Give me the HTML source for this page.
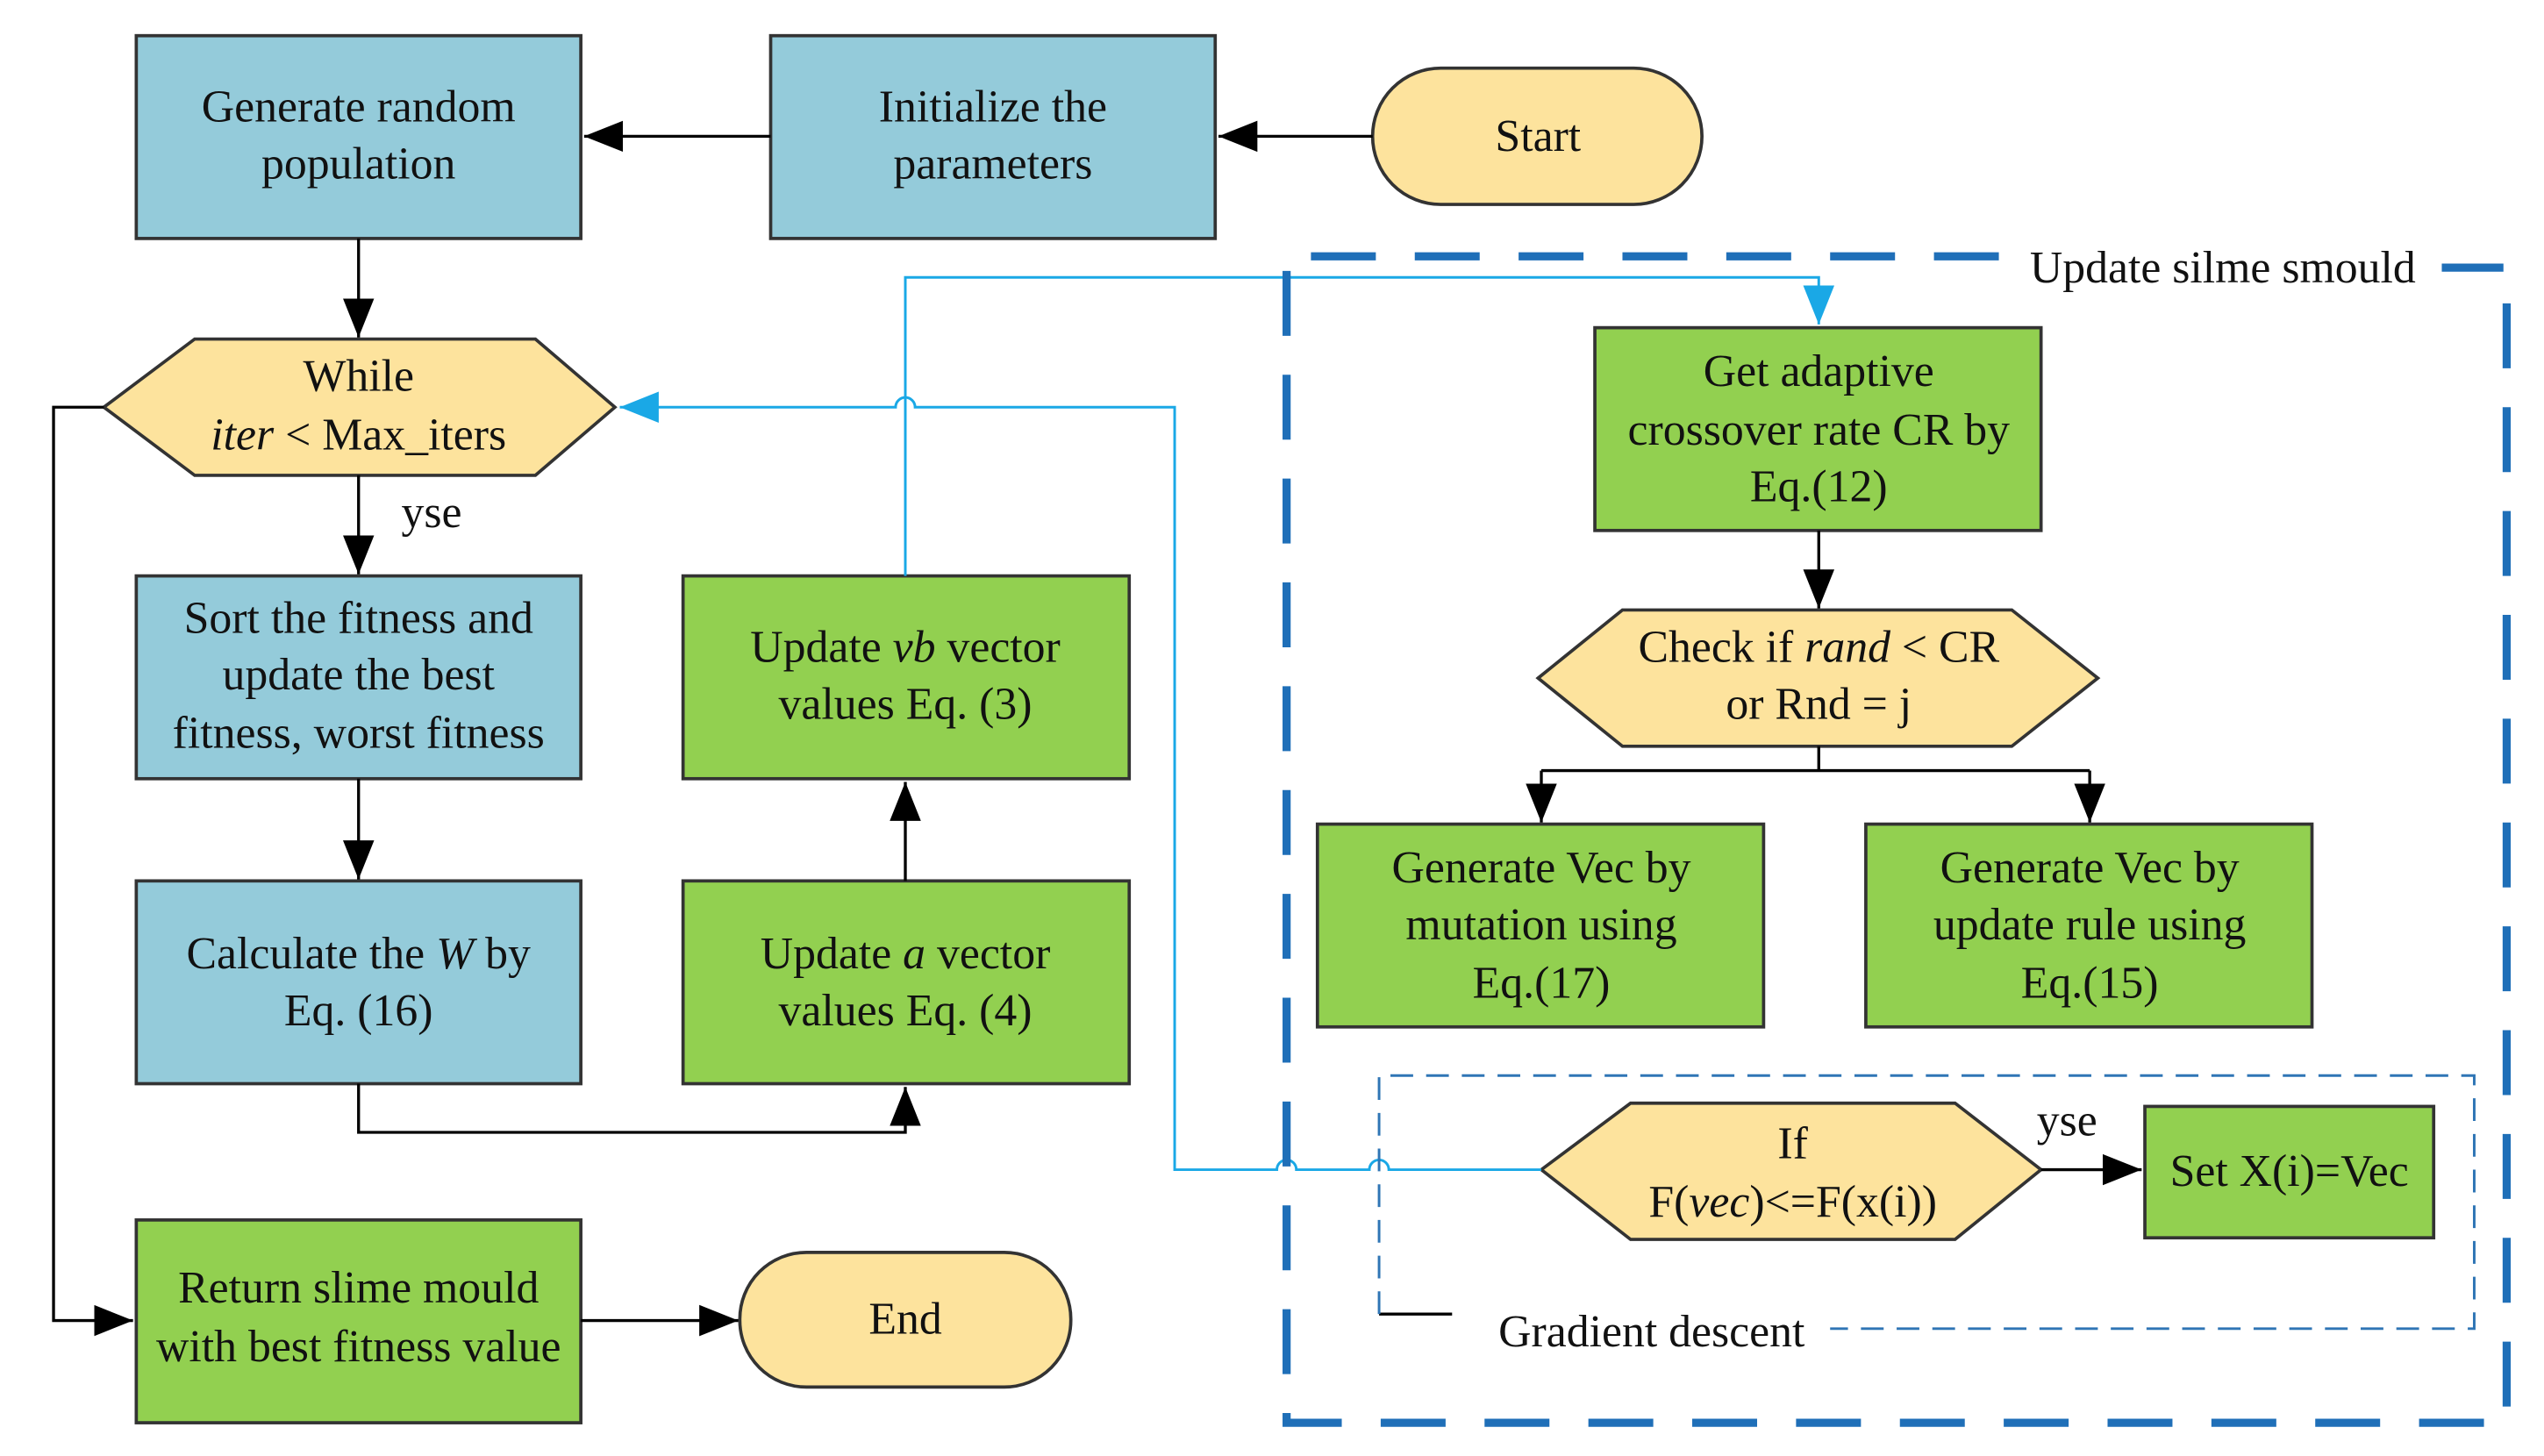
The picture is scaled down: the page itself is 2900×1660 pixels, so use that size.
<!DOCTYPE html>
<html><head><meta charset="utf-8"><style>html,body{margin:0;padding:0;background:#fff}svg{display:block}text{font-family:"Liberation Serif",serif;font-size:28px;fill:#111;text-anchor:middle}</style></head>
<body>
<svg width="2900" height="1660" viewBox="0 0 1568 897.5" preserveAspectRatio="none" xmlns="http://www.w3.org/2000/svg">
<defs>
<marker id="a" viewBox="0 0 10 10" refX="10" refY="5" markerWidth="24" markerHeight="24" markerUnits="userSpaceOnUse" orient="auto"><path d="M0,1 L10,5 L0,9z" fill="#000"/></marker>
<marker id="b" viewBox="0 0 10 10" refX="10" refY="5" markerWidth="24" markerHeight="24" markerUnits="userSpaceOnUse" orient="auto"><path d="M0,1 L10,5 L0,9z" fill="#1aa8e6"/></marker>
</defs>
<g stroke="#333" stroke-width="2">
<rect x="84" y="22" width="274" height="125" fill="#94cbda"/>
<rect x="475" y="22" width="274" height="125" fill="#94cbda"/>
<rect x="846" y="42" width="203" height="84" rx="42" fill="#fde39d"/>
<polygon points="64,251 120,209 330,209 379,251 330,293 120,293" fill="#fde39d"/>
<rect x="84" y="355" width="274" height="125" fill="#94cbda"/>
<rect x="84" y="543" width="274" height="125" fill="#94cbda"/>
<rect x="421" y="355" width="275" height="125" fill="#92d050"/>
<rect x="421" y="543" width="275" height="125" fill="#92d050"/>
<rect x="84" y="752" width="274" height="125" fill="#92d050"/>
<rect x="456" y="772" width="204" height="83" rx="41" fill="#fde39d"/>
<rect x="983" y="202" width="275" height="125" fill="#92d050"/>
<polygon points="948,418 1000,376 1240,376 1293,418 1240,460 1000,460" fill="#fde39d"/>
<rect x="812" y="508" width="275" height="125" fill="#92d050"/>
<rect x="1150" y="508" width="275" height="125" fill="#92d050"/>
<polygon points="950,721 1005,680 1205,680 1258,721 1205,764 1005,764" fill="#fde39d"/>
<rect x="1322" y="682" width="178" height="81" fill="#92d050"/>
</g>
<g stroke="#000" stroke-width="1.8" fill="none">
<line x1="846" y1="84" x2="751" y2="84" marker-end="url(#a)"/>
<line x1="475" y1="84" x2="360" y2="84" marker-end="url(#a)"/>
<line x1="221" y1="147" x2="221" y2="208" marker-end="url(#a)"/>
<line x1="221" y1="293" x2="221" y2="354" marker-end="url(#a)"/>
<line x1="221" y1="480" x2="221" y2="542" marker-end="url(#a)"/>
<polyline points="221,668 221,698 558,698 558,670" marker-end="url(#a)"/>
<line x1="558" y1="543" x2="558" y2="482" marker-end="url(#a)"/>
<polyline points="64,251 33,251 33,814 82,814" marker-end="url(#a)"/>
<line x1="358" y1="814" x2="455" y2="814" marker-end="url(#a)"/>
<line x1="1121" y1="327" x2="1121" y2="375" marker-end="url(#a)"/>
<line x1="1121" y1="460" x2="1121" y2="475"/>
<line x1="950" y1="475" x2="1288" y2="475"/>
<line x1="950" y1="475" x2="950" y2="507" marker-end="url(#a)"/>
<line x1="1288" y1="475" x2="1288" y2="507" marker-end="url(#a)"/>
<line x1="1258" y1="721" x2="1320" y2="721" marker-end="url(#a)"/>
<line x1="850" y1="810" x2="895" y2="810"/>
</g>
<g stroke="#1aa8e6" stroke-width="1.6" fill="none">
<polyline points="558,355 558,171 1121,171 1121,200" marker-end="url(#b)"/>
<path d="M950,721 L856,721 a6,6 0 0 0 -12,0 L799,721 a6,6 0 0 0 -12,0 L724,721 L724,251 L564,251 a6,6 0 0 0 -12,0 L382,251" marker-end="url(#b)"/>
</g>
<g stroke="#1f6fb8" stroke-width="5" fill="none" stroke-dasharray="40,24">
<polyline points="1232,158 793,158 793,877 1545,877 1545,165 1505,165"/>
</g>
<g stroke="#2f75b5" stroke-width="1.6" fill="none" stroke-dasharray="14,8">
<polyline points="850,810 850,663 1525,663 1525,819 1128,819"/>
</g>
<text x="221" y="75">Generate random</text><text x="221" y="110">population</text>
<text x="612" y="75">Initialize the</text><text x="612" y="110">parameters</text>
<text x="948" y="93">Start</text>
<text x="221" y="241">While</text><text x="221" y="277"><tspan font-style="italic">iter</tspan> &lt; Max_iters</text>
<text x="266" y="325">yse</text>
<text x="221" y="390">Sort the fitness and</text><text x="221" y="425">update the best</text><text x="221" y="461">fitness, worst fitness</text>
<text x="221" y="597">Calculate the <tspan font-style="italic">W</tspan> by</text><text x="221" y="632">Eq. (16)</text>
<text x="558" y="408">Update <tspan font-style="italic">vb</tspan> vector</text><text x="558" y="443">values Eq. (3)</text>
<text x="558" y="597">Update <tspan font-style="italic">a</tspan> vector</text><text x="558" y="632">values Eq. (4)</text>
<text x="221" y="803">Return slime mould</text><text x="221" y="839">with best fitness value</text>
<text x="558" y="822">End</text>
<text x="1370" y="174">Update silme smould</text>
<text x="1121" y="238">Get adaptive</text><text x="1121" y="274">crossover rate CR by</text><text x="1121" y="309">Eq.(12)</text>
<text x="1121" y="408">Check if <tspan font-style="italic">rand</tspan> &lt; CR</text><text x="1121" y="443">or Rnd = j</text>
<text x="950" y="544">Generate Vec by</text><text x="950" y="579">mutation using</text><text x="950" y="615">Eq.(17)</text>
<text x="1288" y="544">Generate Vec by</text><text x="1288" y="579">update rule using</text><text x="1288" y="615">Eq.(15)</text>
<text x="1105" y="714">If</text><text x="1105" y="750">F(<tspan font-style="italic">vec</tspan>)&lt;=F(x(i))</text>
<text x="1274" y="700">yse</text>
<text x="1411" y="731">Set X(i)=Vec</text>
<text x="1018" y="830">Gradient descent</text>
</svg>
</body></html>
